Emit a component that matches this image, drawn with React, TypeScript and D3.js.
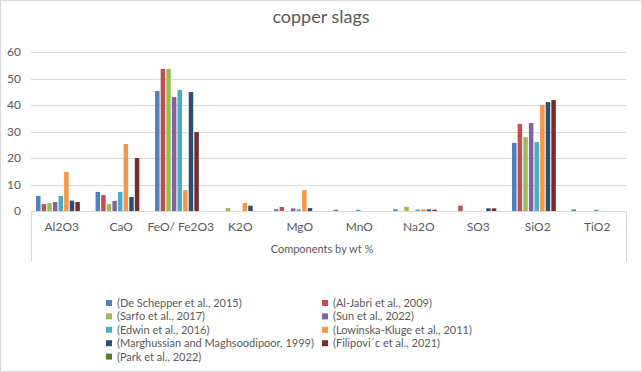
import React, { useEffect, useRef } from "react";
import * as d3 from "d3";

const categories = ["Al2O3", "CaO", "FeO/ Fe2O3", "K2O", "MgO", "MnO", "Na2O", "SO3", "SiO2", "TiO2"];

const seriesNames = [
  "(De Schepper et al., 2015)",
  "(Al-Jabri et al., 2009)",
  "(Sarfo et al., 2017)",
  "(Sun et al., 2022)",
  "(Edwin et al., 2016)",
  "(Lowinska-Kluge et al., 2011)",
  "(Marghussian and Maghsoodipoor, 1999)",
  "(Filipovi´c et al., 2021)",
  "(Park et al., 2022)",
];

const colors = ["#4F81BD", "#C0504D", "#9BBB59", "#8064A2", "#4BACC6", "#F79646", "#2C4D75", "#772C2A", "#5F7530"];

// values per series, in category order
const deSchepper = [5.7, 7.2, 45.3, 0, 0.7, 0.5, 0.6, 0, 25.7, 0.6];
const alJabri = [2.6, 6.0, 53.6, 0, 1.5, 0, 0, 2.0, 32.8, 0];
const sarfo = [3.0, 2.6, 53.6, 1.1, 0, 0, 1.5, 0, 27.9, 0];
const sun = [3.4, 3.8, 43.0, 0, 1.0, 0, 0, 0, 33.2, 0];
const edwin = [5.7, 7.2, 45.7, 0, 0.6, 0.5, 0.6, 0, 26.0, 0.5];
const lowinska = [14.7, 25.3, 7.9, 3.0, 7.9, 0, 0.6, 0, 40.0, 0];
const marghussian = [3.9, 5.3, 44.9, 2.0, 1.1, 0, 0.6, 1.0, 41.1, 0];
const filipovic = [3.4, 20.0, 29.8, 0, 0, 0, 0.5, 1.0, 41.9, 0];
const park = [0, 0, 0, 0, 0, 0, 0, 0, 0, 0];

const seriesValues = [deSchepper, alJabri, sarfo, sun, edwin, lowinska, marghussian, filipovic, park];
const yTicks = [0, 10, 20, 30, 40, 50, 60];

const App = () => {
  const ref: any = useRef();
  const width = 642;
  const height = 372;
  const margin = { top: 52, right: 16, bottom: 161, left: 31 };
  const font = "Lato, 'Open Sans', sans-serif";

  useEffect(() => {
    const svg = d3.select(ref.current);
    svg.selectAll("*").remove();

    svg
      .append("rect")
      .attr("x", 0.5)
      .attr("y", 0.5)
      .attr("width", width - 1)
      .attr("height", height - 1)
      .attr("fill", "#fff")
      .attr("stroke", "#D9D9D9");

    const plotBottom = height - margin.bottom;

    const x0 = d3
      .scaleBand()
      .domain(categories)
      .range([margin.left, width - margin.right])
      .padding(0);

    const x1 = d3
      .scaleBand()
      .domain(seriesNames)
      .range([0, x0.bandwidth()])
      .paddingInner(0.2)
      .paddingOuter(0.9);

    const y = d3.scaleLinear().domain([0, 60]).range([plotBottom, margin.top]);

    // gridlines
    svg
      .append("g")
      .selectAll("line")
      .data(yTicks.filter((d) => d > 0))
      .join("line")
      .attr("x1", margin.left)
      .attr("x2", width - margin.right)
      .attr("y1", (d) => Math.round(y(d)) + 0.5)
      .attr("y2", (d) => Math.round(y(d)) + 0.5)
      .attr("stroke", "#D9D9D9");

    // y tick labels
    svg
      .append("g")
      .selectAll("text")
      .data(yTicks)
      .join("text")
      .attr("x", 21)
      .attr("y", (d) => y(d) + 4)
      .attr("text-anchor", "end")
      .attr("font-family", font)
      .attr("font-size", 12)
      .attr("fill", "#595959")
      .text((d) => d);

    // bars
    const rows = categories.map((c, i) => ({
      cat: c,
      vals: seriesNames.map((s, j) => ({ s, v: seriesValues[j][i], c: colors[j] })),
    }));

    svg
      .append("g")
      .selectAll("g")
      .data(rows)
      .join("g")
      .attr("transform", (d) => `translate(${x0(d.cat)},0)`)
      .selectAll("rect")
      .data((d) => d.vals)
      .join("rect")
      .attr("x", (d) => x1(d.s) || 0)
      .attr("y", (d) => y(d.v))
      .attr("width", x1.bandwidth())
      .attr("height", (d) => y(0) - y(d.v))
      .attr("fill", (d) => d.c);

    // category axis box
    const axisColor = "#D9D9D9";
    const boxBottom = 262;
    svg
      .append("line")
      .attr("x1", margin.left)
      .attr("x2", width - margin.right)
      .attr("y1", plotBottom + 0.5)
      .attr("y2", plotBottom + 0.5)
      .attr("stroke", axisColor);
    [margin.left, width - margin.right].forEach((xx) => {
      svg
        .append("line")
        .attr("x1", xx + 0.5)
        .attr("x2", xx + 0.5)
        .attr("y1", plotBottom)
        .attr("y2", boxBottom)
        .attr("stroke", axisColor);
    });

    svg
      .append("g")
      .selectAll("text")
      .data(categories)
      .join("text")
      .attr("x", (d) => (x0(d) || 0) + x0.bandwidth() / 2 + 1)
      .attr("y", 231)
      .attr("text-anchor", "middle")
      .attr("font-family", font)
      .attr("font-size", 12)
      .attr("fill", "#595959")
      .text((d) => d);

    svg
      .append("text")
      .attr("x", 322)
      .attr("y", 253)
      .attr("text-anchor", "middle")
      .attr("font-family", font)
      .attr("font-size", 11)
      .attr("fill", "#595959")
      .text("Components by wt %");

    // title
    svg
      .append("text")
      .attr("x", 321)
      .attr("y", 23)
      .attr("text-anchor", "middle")
      .attr("font-family", font)
      .attr("font-size", 18)
      .attr("fill", "#595959")
      .text("copper slags");

    // legend
    const legend = svg
      .append("g")
      .selectAll("g")
      .data(seriesNames)
      .join("g")
      .attr("transform", (d, i) => `translate(${i % 2 === 0 ? 106 : 322},${303 + Math.floor(i / 2) * 13.4})`);

    legend
      .append("rect")
      .attr("x", 0)
      .attr("y", -3)
      .attr("width", 6)
      .attr("height", 6)
      .attr("fill", (d, i) => colors[i]);

    legend
      .append("text")
      .attr("x", 11)
      .attr("y", 4)
      .attr("font-family", font)
      .attr("font-size", 11)
      .attr("fill", "#595959")
      .text((d) => d);
  }, []);

  return (
    <div className="chart">
      <svg ref={ref} width={width} height={height} style={{ position: "absolute", left: 0, top: 0 }}></svg>
    </div>
  );
};

export default App;
